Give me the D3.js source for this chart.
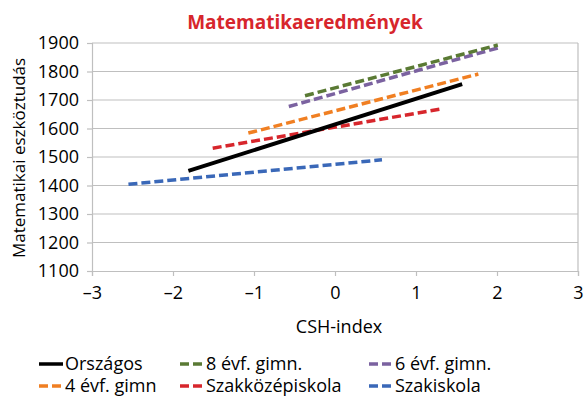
<!DOCTYPE html>
<html><head><meta charset="utf-8">
<script src="https://cdn.jsdelivr.net/npm/d3@7"></script>
<style>body{margin:0;background:#fff}svg text{font-family:"Open Sans",Lato,sans-serif}</style>
</head><body><svg id="c" width="585" height="399"></svg>
<script>
const seriesNames = ["Országos","8 évf. gimn.","6 évf. gimn.","4 évf. gimn","Szakközépiskola","Szakiskola"];
const seriesColors = ["#000000","#5a7a34","#7b62a0","#f07f22","#d7262c","#3a68b8"];
const seriesDashed = [false,true,true,true,true,true];
const startX = [-1.81,-0.37,-0.57,-1.07,-1.51,-2.55];
const startY = [1451,1715,1677,1584,1531,1404];
const endX = [1.57,2.01,2.04,1.77,1.30,0.58];
const endY = [1756,1893,1885,1791,1668,1490];
const xTicks = [-3,-2,-1,0,1,2,3];
const yTicks = [1100,1200,1300,1400,1500,1600,1700,1800,1900];

const svg = d3.select("#c");
const x = d3.scaleLinear().domain([-3,3]).range([92,578]);
const y = d3.scaleLinear().domain([1100,1900]).range([271,43]);

svg.append("g").selectAll("line").data(yTicks.slice(1)).join("line")
  .attr("x1",92).attr("x2",578).attr("y1",d=>y(d)).attr("y2",d=>y(d))
  .attr("stroke","#bfbfbf").attr("stroke-width",1.2);
svg.append("line").attr("x1",578).attr("x2",578).attr("y1",y(1900)).attr("y2",y(1100)).attr("stroke","#bfbfbf").attr("stroke-width",1.2);

const fmt = d => String(d).replace("-","\u2013");
const xa = svg.append("g").attr("transform",`translate(0,${y(1100)})`)
  .call(d3.axisBottom(x).tickValues(xTicks).tickFormat(fmt).tickSize(5).tickPadding(10));
const ya = svg.append("g").attr("transform",`translate(${x(-3)},0)`)
  .call(d3.axisLeft(y).tickValues(yTicks).tickFormat(d3.format("d")).tickSize(5).tickPadding(8));
[xa,ya].forEach(a=>{a.select(".domain").attr("stroke","#bfbfbf").attr("stroke-width",1.2);
  a.selectAll(".tick line").attr("stroke","#bfbfbf").attr("stroke-width",1.2);
  a.selectAll("text").attr("fill","#000").style("font-size","18px").style("font-family","'Open Sans',sans-serif");});

const data = seriesNames.map((n,i)=>({n,c:seriesColors[i],d:seriesDashed[i],pts:[[startX[i],startY[i]],[endX[i],endY[i]]]}));
const line = d3.line().x(p=>x(p[0])).y(p=>y(p[1]));
svg.append("g").selectAll("path").data(data.slice().reverse()).join("path")
  .attr("d",s=>line(s.pts)).attr("fill","none").attr("stroke",s=>s.c)
  .attr("stroke-width",s=>s.d?3.5:4).attr("stroke-dasharray",s=>s.d?"9,4":null);

svg.append("text").attr("x",305).attr("y",29).attr("text-anchor","middle")
  .attr("fill","#d7262c").style("font-weight","bold").style("font-size","19px").text("Matematikaeredmények");
svg.append("text").attr("x",339).attr("y",333).attr("text-anchor","middle").style("font-size","18px").text("CSH-index");
svg.append("text").attr("transform",`translate(25,158) rotate(-90)`).attr("text-anchor","middle").style("font-size","17px").text("Matematikai eszköztudás");

const lx = [39,180,369];
const ly = [364,386];
const lg = svg.append("g").selectAll("g").data(data).join("g")
  .attr("transform",(s,i)=>`translate(${lx[i%3]},${ly[Math.floor(i/3)]})`);
lg.append("line").attr("x1",0).attr("x2",24).attr("y1",0).attr("y2",0)
  .attr("stroke",s=>s.c).attr("stroke-width",3.5).attr("stroke-dasharray",s=>s.d?"9,4":null);
lg.append("text").attr("x",26).attr("y",6).style("font-size","18px").text(s=>s.n);
</script></body></html>
